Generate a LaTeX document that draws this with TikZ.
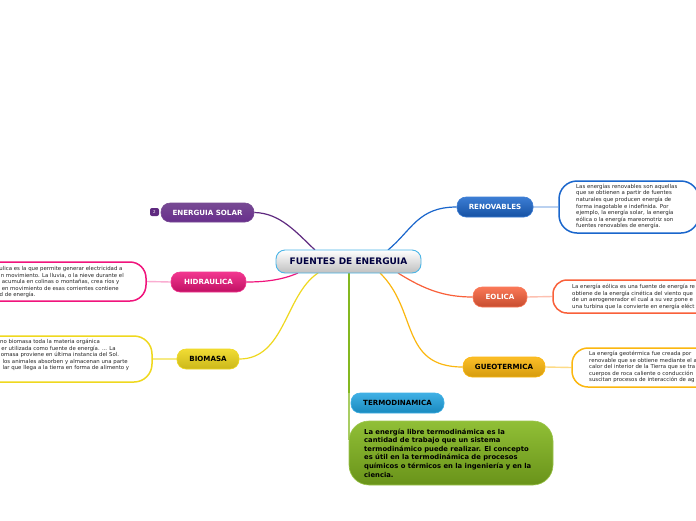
\documentclass[tikz,border=0pt]{standalone}
\usepackage{fontspec}
\setmainfont{DejaVu Sans}
\usetikzlibrary{backgrounds}
\definecolor{cblue}{HTML}{1A66CC}
\definecolor{cpink}{HTML}{F0147C}
\definecolor{cyell}{HTML}{EFD81E}
\definecolor{corng}{HTML}{F9603A}
\definecolor{cgold}{HTML}{FBB710}
\definecolor{cpurp}{HTML}{5F2A80}
\definecolor{cgreen}{HTML}{84B820}
\definecolor{ccyan}{HTML}{1EA2E0}
\tikzset{
  topic/.style={rounded corners=9pt,minimum height=20pt,inner sep=0pt,font=\fontsize{7.1}{8}\selectfont\bfseries,line width=.6pt},
  detail/.style={draw,fill=white,rounded corners=18pt,line width=1.5pt,inner sep=0pt},
  dtext/.style={inner sep=0pt,text=black!85,align=left,font=\fontsize{5.4}{6.55}\selectfont},
  lline/.style={inner sep=0pt,text=black!85,anchor=east,font=\fontsize{5.4}{6}\selectfont},
  branch/.style={line width=1.2pt},
  stem/.style={line width=1.6pt}
}
\begin{document}
\begin{tikzpicture}[x=1pt,y=-1pt]
\useasboundingbox (0,0) rectangle (696,520);
\clip (0,0) rectangle (696,520);
% central
\node[topic,minimum width=145pt,minimum height=23pt,draw=ccyan!80,line width=.9pt,top color=white,bottom color=black!25,text=blue!25!black,font=\fontsize{9}{10}\selectfont\bfseries] (c) at (348.5,261.5) {FUENTES DE ENERGUIA};
% topics
\node[topic,minimum width=93pt,minimum height=19pt,draw=cpurp!85,top color=cpurp!85,bottom color=cpurp!110!black,text=white] (solar) at (207.5,212.5) {ENERGUIA SOLAR};
\node[rounded corners=2pt,minimum width=9pt,minimum height=8pt,inner sep=0pt,fill=cpurp,text=white,font=\fontsize{4}{5}\selectfont] (tag) at (154.5,212) {2};
\node[topic,minimum width=75pt,draw=cpink!85,top color=cpink!85,bottom color=cpink!80!black,text=white] (hid) at (208.5,282) {HIDRAULICA};
\node[topic,minimum width=62pt,draw=cyell,top color=cyell!90,bottom color=cyell!85!black,text=black] (bio) at (208,359) {BIOMASA};
\node[topic,minimum width=76pt,draw=cblue!85,top color=cblue!85,bottom color=cblue!80!black,text=white] (ren) at (495,207) {RENOVABLES};
\node[topic,minimum width=54pt,draw=corng!85,top color=corng!85,bottom color=corng!80!black,text=white] (eol) at (500,297) {EOLICA};
\node[topic,minimum width=82pt,draw=cgold,top color=cgold!90,bottom color=cgold!85!black,text=black] (geo) at (504,367) {GUEOTERMICA};
\node[topic,minimum width=93pt,draw=ccyan!85,top color=ccyan!85,bottom color=ccyan!85!black,text=black] (ter) at (397.5,403) {TERMODINAMICA};
% green box
\node[rounded corners=20pt,minimum width=204pt,minimum height=64pt,inner sep=0pt,draw=cgreen!80,line width=.6pt,top color=cgreen!90,bottom color=cgreen!80!black] (gbox) at (451,453) {};
\node[inner sep=0pt,align=left,anchor=west,text=black,font=\fontsize{6.8}{8.6}\selectfont\bfseries] (gtext) at (364,453) {La energía libre termodinámica es la\\cantidad de trabajo que un sistema\\termodinámico puede realizar. El concepto\\es útil en la termodinámica de procesos\\químicos o térmicos en la ingeniería y en la\\ciencia.};
% details
\node[detail,draw=cblue,minimum width=140pt,minimum height=52pt] (dren) at (629,207) {};
\node[dtext,anchor=west] (tren) at (576,206.4) {Las energías renovables son aquellas\\que se obtienen a partir de fuentes\\naturales que producen energía de\\forma inagotable e indefinida. Por\\ejemplo, la energía solar, la energía\\eólica o la energía mareomotriz son\\fuentes renovables de energía.};
\node[detail,draw=corng,minimum width=170pt,minimum height=33pt,rounded corners=14pt] (deol) at (638,296.5) {};
\node[dtext,anchor=west] (teol) at (572,296.8) {La energía eólica es una fuente de energía re\\obtiene de la energía cinética del viento que\\de un aerogenerador el cual a su vez pone e\\una turbina que la convierte en energía eléct};
\node[detail,draw=cgold,minimum width=170pt,minimum height=39pt,rounded corners=16pt] (dgeo) at (657,367.5) {};
\node[dtext,anchor=west] (tgeo) at (589,367.2) {La energía geotérmica fue creada por\\renovable que se obtiene mediante el a\\calor del interior de la Tierra que se tra\\cuerpos de roca caliente o conducción\\suscitan procesos de interacción de ag};
\node[detail,draw=cpink,minimum width=170pt,minimum height=39pt,rounded corners=16pt] (dhid) at (61,281.5) {};
\node[lline] (h1) at (122.7,269.3) {ulica es la que permite generar electricidad a};
\node[lline] (h2) at (124,275.6) {n movimiento. La lluvia, o la nieve durante el};
\node[lline] (h3) at (119.5,282) {acumula en colinas o montañas, crea ríos y};
\node[lline] (h4) at (119,288.4) {en movimiento de esas corrientes contiene};
\node[lline] (h5) at (35.7,294.8) {d de energía.};
\node[detail,draw=cyell,minimum width=170pt,minimum height=46pt] (dbio) at (67,359) {};
\node[lline] (b1) at (100,341.7) {no biomasa toda la materia orgánica};
\node[lline] (b2) at (116,348.4) {er utilizada como fuente de energía. ... La};
\node[lline] (b3) at (119.3,355) {omasa proviene en última instancia del Sol.};
\node[lline] (b4) at (128,361.8) {los animales absorben y almacenan una parte};
\node[lline] (b5) at (129.3,368.3) {lar que llega a la tierra en forma de alimento y};
% connector ends on the central topic
\coordinate (cS) at (315,250);
\coordinate (cH) at (298,273);
\coordinate (cB) at (318,273);
\coordinate (cR) at (388,250);
\coordinate (cE) at (398,273);
\coordinate (cG) at (380,273);
\coordinate (cT) at (349,273);
\coordinate (tT) at (349,393);
\coordinate (gT) at (349,440);
\begin{pgfonlayer}{background}
\fill[white] (0,0) rectangle (696,520);
\draw[branch,cpurp] (cS) .. controls (296,232) and (280,213) .. (solar.east);
\draw[branch,cpink] (cH) .. controls (282,280) and (265,282) .. (hid.east);
\draw[branch,cyell] (cB) .. controls (285,295) and (285,359) .. (bio.east);
\draw[branch,cblue] (cR) .. controls (412,230) and (418,207) .. (ren.west);
\draw[branch,corng] (cE) .. controls (425,290) and (445,297) .. (eol.west);
\draw[branch,cgold] (cG) .. controls (418,310) and (400,367) .. (geo.west);
\draw[stem,cgreen] (cT) -- (tT);
\draw[line width=1.2pt,cgreen!70] (tT) -- (gT);
\draw[line width=2pt,cblue!30] (ren.east) -- (dren.west);
\draw[line width=1.4pt,corng!40] (eol.east) -- (deol.west);
\draw[line width=1.4pt,cgold!50] (geo.east) -- (dgeo.west);
\draw[line width=1.4pt,cpink!35] (hid.west) -- (dhid.east);
\draw[line width=1.4pt,cyell!55] (bio.west) -- (dbio.east);
\end{pgfonlayer}
\end{tikzpicture}
\end{document}
